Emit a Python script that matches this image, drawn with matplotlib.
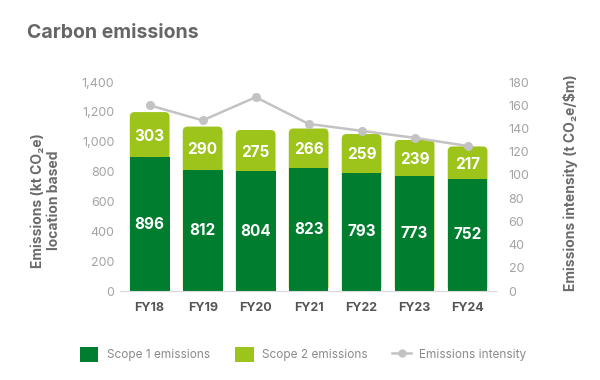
import matplotlib.pyplot as plt
from matplotlib.lines import Line2D
from matplotlib.patches import FancyBboxPatch, Patch

plt.rcParams["font.family"] = ["Inter", "DejaVu Sans"]

years = ["FY18", "FY19", "FY20", "FY21", "FY22", "FY23", "FY24"]
scope1 = [896, 812, 804, 823, 793, 773, 752]
scope2 = [303, 290, 275, 266, 259, 239, 217]
intensity = [160, 147, 167, 144, 138, 132, 125]

DARK_GREEN = "#007D2F"
LIGHT_GREEN = "#9DC41A"
LINE_GREY = "#C3C3C3"
TICK_GREY = "#A3A3A3"
LABEL_GREY = "#6B6B6B"

W, H = 600, 380
fig = plt.figure(figsize=(W / 100, H / 100), dpi=100)
ax = fig.add_axes([0.2, 0.234, 0.627, 0.55])
ax2 = ax.twinx()

x = list(range(len(years)))
width = 0.75

# stacked bars: scope 1 at the bottom, scope 2 on top
bars1 = ax.bar(x, scope1, width, color=DARK_GREEN, zorder=3)
bars2 = ax.bar(x, scope2, width, bottom=scope1, color=LIGHT_GREEN, zorder=2)

ax.set_xlim(-0.56, len(years) - 0.46)
ax.set_ylim(0, 1400)

# rounded tops: swap the scope 2 rectangles for rounded boxes running from 0
pos = ax.get_position()
px_x = pos.width * W / (ax.get_xlim()[1] - ax.get_xlim()[0])
px_y = pos.height * H / 1400
for rect in bars2:
    rx, ry = rect.get_x(), rect.get_y()
    rw, rh = rect.get_width(), rect.get_height()
    rect.set_visible(False)
    ax.add_patch(FancyBboxPatch((rx, 0), rw, ry + rh,
                                boxstyle="round,pad=0,rounding_size=0.09",
                                mutation_aspect=px_x / px_y,
                                facecolor=LIGHT_GREEN, edgecolor="none", zorder=2))

for i in x:
    ax.text(i, scope1[i] / 2, str(scope1[i]), ha="center", va="center",
            color="white", fontsize=11, fontweight="bold", zorder=4)
    ax.text(i, scope1[i] + scope2[i] / 2 - 10, str(scope2[i]), ha="center", va="center",
            color="white", fontsize=11, fontweight="bold", zorder=4)

ax2.plot(x, intensity, color=LINE_GREY, linewidth=1.8, marker="o", markersize=5.5, zorder=5)
ax2.set_ylim(0, 180)
ax2.set_yticks(range(0, 181, 20))

ax.set_yticks(range(0, 1401, 200))
ax.set_yticklabels([f"{v:,}" for v in range(0, 1401, 200)])
ax.set_xticks(x)
ax.set_xticklabels(years, fontweight="bold", color="#555555", fontsize=10)

for a in (ax, ax2):
    for side in ("top", "left", "right"):
        a.spines[side].set_visible(False)
    a.spines["bottom"].set_color("#D9D9D9")
    a.tick_params(length=0, colors=TICK_GREY, labelsize=9)
ax.tick_params(axis="x", pad=8, colors="#555555")
ax.tick_params(axis="y", pad=4)
ax2.tick_params(axis="y", pad=9)

ax.set_ylabel("Emissions (kt CO\u2082e)\nlocation based", fontsize=10, fontweight="bold",
              color=LABEL_GREY, linespacing=1.1)
ax.yaxis.set_label_coords(-0.158, 0.435)
ax2.set_ylabel("Emissions intensity (t CO\u2082e/$m)", fontsize=10, fontweight="bold",
               color=LABEL_GREY)
ax2.yaxis.set_label_coords(1.178, 0.52)

fig.text(0.045, 0.913, "Carbon emissions", fontsize=14, fontweight="bold",
         color="#666666", ha="left", va="center")

handles = [
    Patch(facecolor=DARK_GREEN, edgecolor="none"),
    Patch(facecolor=LIGHT_GREEN, edgecolor="none"),
    Line2D([0], [0], color=LINE_GREY, linewidth=1.8, marker="o", markersize=5),
]
fig.legend(handles, ["Scope 1 emissions", "Scope 2 emissions", "Emissions intensity"],
           loc="center", bbox_to_anchor=(0.505, 0.067), ncol=3, frameon=False,
           fontsize=8.5, labelcolor="#8A8A8A", handlelength=1.6, handleheight=1.6,
           columnspacing=2.1, handletextpad=0.7)

fig.savefig("out.png", dpi=100)
